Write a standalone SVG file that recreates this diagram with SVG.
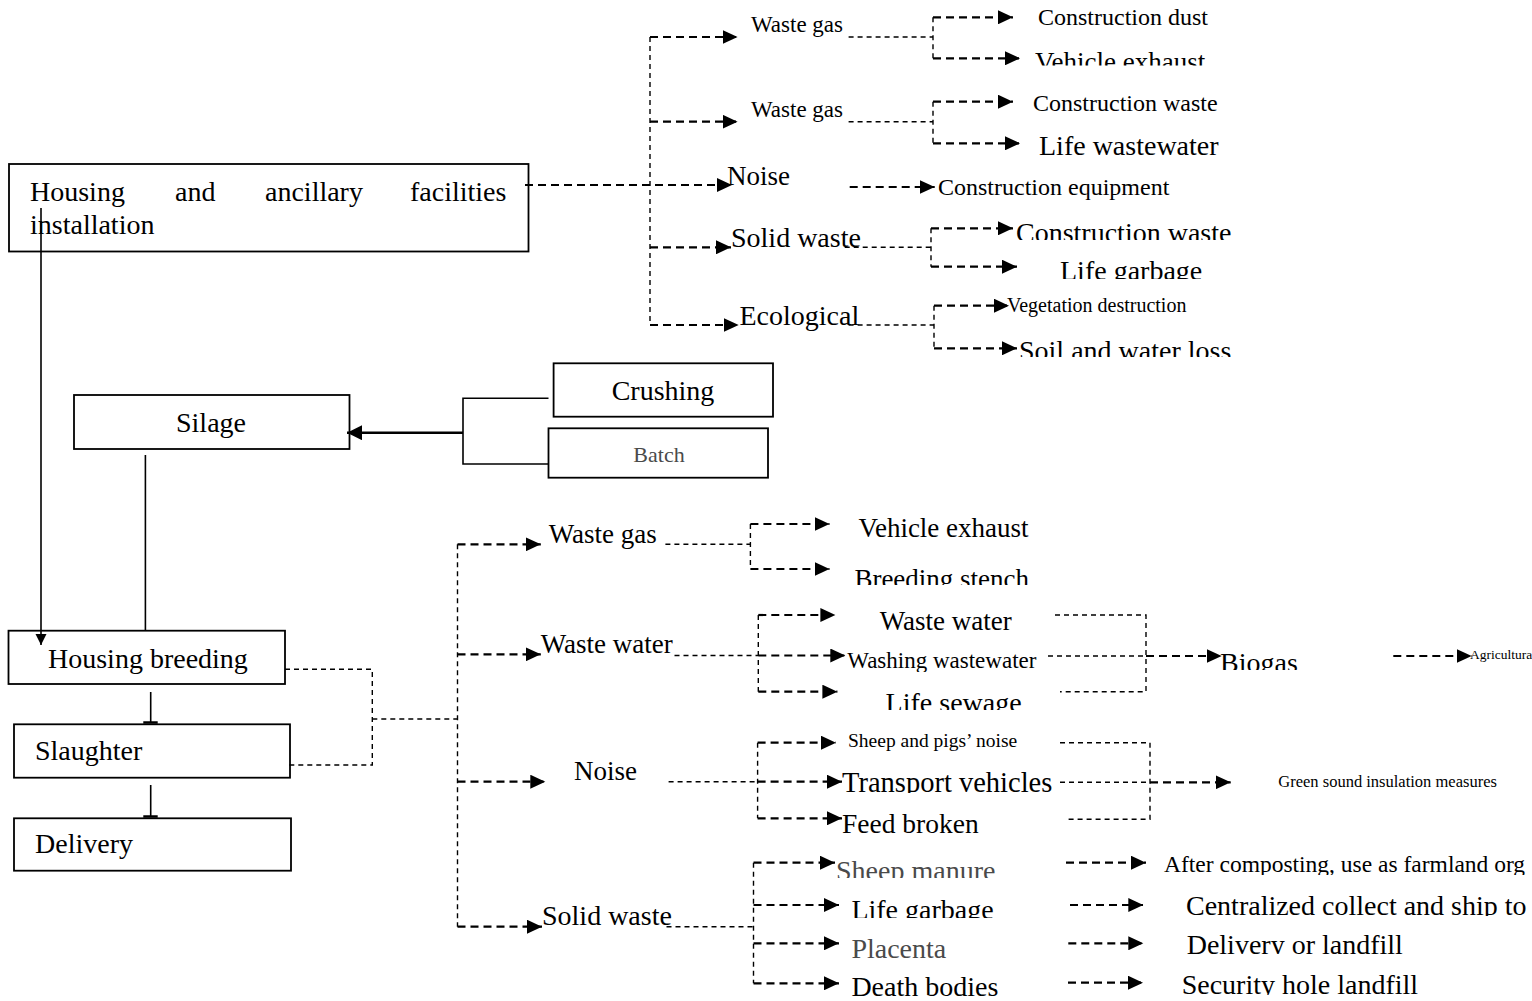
<svg xmlns="http://www.w3.org/2000/svg" width="1532" height="1001" viewBox="0 0 1532 1001">
  <style>
    .t { font-family: "Liberation Serif", "DejaVu Serif", serif; fill: #000; }
    .grey { fill: #4a4a4a; }
    .box { fill: none; stroke: #000; stroke-width: 1.8; }
    .dk { fill: none; stroke: #000; stroke-width: 2.2; stroke-dasharray: 8 5; }
    .dt { fill: none; stroke: #000; stroke-width: 1.4; stroke-dasharray: 5 4; }
    .sl { fill: none; stroke: #000; stroke-width: 1.6; }
    .sk { fill: none; stroke: #000; stroke-width: 2.6; }
  </style>
  <defs>
    <marker id="ah" markerUnits="userSpaceOnUse" markerWidth="16" markerHeight="14" refX="15" refY="7" orient="auto">
      <path d="M0,0 L15,7 L0,14 Z" fill="#000"/>
    </marker>
    <marker id="ahs" markerUnits="userSpaceOnUse" markerWidth="16" markerHeight="16" refX="15" refY="7.5" orient="auto">
      <path d="M0,0 L15,7.5 L0,15 Z" fill="#000"/>
    </marker>
    <marker id="ahd" markerUnits="userSpaceOnUse" markerWidth="12" markerHeight="12" refX="11" refY="5.5" orient="auto">
      <path d="M0,0 L11,5.5 L0,11 Z" fill="#000"/>
    </marker>
    <!-- text frames that cut off the lower part of some labels -->
    <clipPath id="cVeh1"><rect x="1000" y="30" width="300" height="35.5"/></clipPath>
    <clipPath id="cCw2"><rect x="1000" y="200" width="300" height="40"/></clipPath>
    <clipPath id="cLg1"><rect x="1000" y="250" width="300" height="29"/></clipPath>
    <clipPath id="cSoil"><rect x="1000" y="330" width="300" height="27"/></clipPath>
    <clipPath id="cBreed"><rect x="840" y="560" width="300" height="25"/></clipPath>
    <clipPath id="cWash"><rect x="840" y="640" width="300" height="32"/></clipPath>
    <clipPath id="cSew"><rect x="860" y="680" width="300" height="30"/></clipPath>
    <clipPath id="cBio"><rect x="1200" y="640" width="200" height="30"/></clipPath>
    <clipPath id="cTrans"><rect x="830" y="760" width="300" height="33"/></clipPath>
    <clipPath id="cManure"><rect x="830" y="850" width="300" height="28"/></clipPath>
    <clipPath id="cLg2"><rect x="840" y="890" width="300" height="28"/></clipPath>
    <clipPath id="cAfter"><rect x="1150" y="850" width="400" height="25"/></clipPath>
    <clipPath id="cCent"><rect x="1150" y="890" width="400" height="26"/></clipPath>
    <clipPath id="cDeliv"><rect x="1150" y="925" width="400" height="29"/></clipPath>
    <clipPath id="cSec"><rect x="1150" y="965" width="400" height="30"/></clipPath>
  </defs>

  <rect width="1532" height="1001" fill="#fff"/>

  <!-- connectors -->
  <g id="connectors">
    <!-- construction stage tree -->
    <path class="dt" d="M650,37 V325"/>
    <path class="dk" d="M650,37 H737.6" marker-end="url(#ah)"/>
    <path class="dk" d="M650,121.7 H737.6" marker-end="url(#ah)"/>
    <path class="dk" d="M525,185 H732" marker-end="url(#ah)"/>
    <path class="dk" d="M650,247.3 H731" marker-end="url(#ah)"/>
    <path class="dk" d="M650,325 H738.7" marker-end="url(#ah)"/>

    <path class="dt" d="M848.6,37 H933 M933,17.3 V58.3"/>
    <path class="dk" d="M933,17.3 H1013" marker-end="url(#ah)"/>
    <path class="dk" d="M933,58.3 H1020" marker-end="url(#ah)"/>

    <path class="dt" d="M848.6,121.7 H933 M933,101.7 V143.3"/>
    <path class="dk" d="M933,101.7 H1013" marker-end="url(#ah)"/>
    <path class="dk" d="M933,143.3 H1020" marker-end="url(#ah)"/>

    <path class="dk" d="M849.7,187 H934.7" marker-end="url(#ah)"/>

    <path class="dt" d="M844.7,247.3 H931 M931,228.3 V266.7"/>
    <path class="dk" d="M931,228.3 H1013" marker-end="url(#ah)"/>
    <path class="dk" d="M931,266.7 H1017" marker-end="url(#ah)"/>

    <path class="dt" d="M848.6,325 H934 M934,305.7 V348.3"/>
    <path class="dk" d="M934,305.7 H1009" marker-end="url(#ah)"/>
    <path class="dk" d="M934,348.3 H1017" marker-end="url(#ah)"/>

    <!-- main process line -->
    <path class="sl" d="M41,208 V645" marker-end="url(#ahd)"/>
    <path class="sl" d="M548.5,398.3 H463 V464 H548.5"/>
    <path class="sk" d="M463,432.7 H347" marker-end="url(#ahs)"/>
    <path class="sl" d="M145.4,455 V631"/>
    <path class="sl" d="M150.7,692 V723 M150.7,785 V817"/>
    <path class="sk" d="M143.3,722.5 H157.7 M143.3,816.5 H157.7"/>

    <!-- operation stage tree -->
    <path class="dt" d="M285,669.3 H372.3 V765 H286.7 M372.3,719 H457.5"/>
    <path class="dt" d="M457.5,544.3 V926.7"/>
    <path class="dk" d="M457.5,544.3 H540.8" marker-end="url(#ah)"/>
    <path class="dk" d="M457.5,654.3 H540.8" marker-end="url(#ah)"/>
    <path class="dk" d="M457.5,781.7 H545.3" marker-end="url(#ah)"/>
    <path class="dk" d="M457.5,926.7 H542" marker-end="url(#ah)"/>

    <path class="dt" d="M665.4,544.3 H750.4 M750.4,524 V569"/>
    <path class="dk" d="M750.4,524 H829.5" marker-end="url(#ah)"/>
    <path class="dk" d="M750.4,569 H829.5" marker-end="url(#ah)"/>

    <path class="dt" d="M674.5,655.5 H758.3 M758.3,615 V691.7"/>
    <path class="dk" d="M758.3,615 H835.4" marker-end="url(#ah)"/>
    <path class="dk" d="M758.3,655.5 H845.3" marker-end="url(#ah)"/>
    <path class="dk" d="M758.3,691.7 H837.4" marker-end="url(#ah)"/>

    <path class="dt" d="M1055,615 H1146 V691.7 H1060 M1048,656 H1146"/>
    <path class="dk" d="M1146,656 H1221.7" marker-end="url(#ah)"/>
    <path class="dk" d="M1393.3,656 H1471.7" marker-end="url(#ah)"/>

    <path class="dt" d="M668.6,781.7 H757.6 M757.6,742.7 V818.3"/>
    <path class="dk" d="M757.6,742.7 H836" marker-end="url(#ah)"/>
    <path class="dk" d="M757.6,781.7 H842" marker-end="url(#ah)"/>
    <path class="dk" d="M757.6,818.3 H842" marker-end="url(#ah)"/>

    <path class="dt" d="M1060,742.7 H1150 V819.3 H1066 M1060,782.3 H1150"/>
    <path class="dk" d="M1150,782.3 H1230.7" marker-end="url(#ah)"/>

    <path class="dt" d="M666.5,926.7 H753.5 M753.5,862.7 V983.3"/>
    <path class="dk" d="M753.5,862.7 H835" marker-end="url(#ah)"/>
    <path class="dk" d="M753.5,905 H839" marker-end="url(#ah)"/>
    <path class="dk" d="M753.5,943.3 H839" marker-end="url(#ah)"/>
    <path class="dk" d="M753.5,983.3 H839" marker-end="url(#ah)"/>

    <path class="dk" d="M1066,862.7 H1146" marker-end="url(#ah)"/>
    <path class="dk" d="M1070,905 H1143.3" marker-end="url(#ah)"/>
    <path class="dk" d="M1068.3,943.3 H1143.3" marker-end="url(#ah)"/>
    <path class="dk" d="M1068,982.7 H1143" marker-end="url(#ah)"/>
  </g>

  <!-- process boxes -->
  <g id="node-housing-install">
    <rect class="box" x="9" y="164" width="519.5" height="87.5"/>
    <g class="t" font-size="28">
      <text x="30" y="201">Housing</text>
      <text x="175" y="201">and</text>
      <text x="265" y="201">ancillary</text>
      <text x="410" y="201">facilities</text>
      <text x="30" y="234">installation</text>
    </g>
  </g>
  <g id="node-silage">
    <rect class="box" x="74" y="395" width="275.5" height="54"/>
    <text class="t" x="211" y="432" font-size="28" text-anchor="middle">Silage</text>
  </g>
  <g id="node-crushing">
    <rect class="box" x="553.6" y="363.3" width="219.4" height="53.4"/>
    <text class="t" x="663" y="400" font-size="28" text-anchor="middle">Crushing</text>
  </g>
  <g id="node-batch">
    <rect class="box" x="548.5" y="428.3" width="219.5" height="49.4"/>
    <text class="t grey" x="659" y="462" font-size="22" text-anchor="middle">Batch</text>
  </g>
  <g id="node-housing-breeding">
    <rect class="box" x="8.5" y="630.7" width="276.5" height="53.3"/>
    <text class="t" x="48" y="668.3" font-size="28">Housing breeding</text>
  </g>
  <g id="node-slaughter">
    <rect class="box" x="14" y="724.3" width="276" height="53.4"/>
    <text class="t" x="35" y="760" font-size="28">Slaughter</text>
  </g>
  <g id="node-delivery">
    <rect class="box" x="14" y="818.3" width="277" height="52.4"/>
    <text class="t" x="35" y="853.3" font-size="28">Delivery</text>
  </g>

  <!-- construction stage labels -->
  <g id="node-c-wastegas1" class="t">
    <text x="751" y="31.7" font-size="23">Waste gas</text>
    <text x="1038" y="25" font-size="24">Construction dust</text>
    <text x="1035" y="71" font-size="27" clip-path="url(#cVeh1)">Vehicle exhaust</text>
  </g>
  <g id="node-c-wastegas2" class="t">
    <text x="751" y="117.3" font-size="23">Waste gas</text>
    <text x="1033" y="110.7" font-size="24">Construction waste</text>
    <text x="1039" y="155" font-size="28">Life wastewater</text>
  </g>
  <g id="node-c-noise" class="t">
    <text x="727" y="185" font-size="27">Noise</text>
    <text x="938" y="195" font-size="24">Construction equipment</text>
  </g>
  <g id="node-c-solid" class="t">
    <text x="731" y="247" font-size="28">Solid waste</text>
    <text x="1016" y="242" font-size="28" clip-path="url(#cCw2)">Construction waste</text>
    <text x="1060" y="280" font-size="28" clip-path="url(#cLg1)">Life garbage</text>
  </g>
  <g id="node-c-ecological" class="t">
    <text x="739.5" y="325" font-size="28">Ecological</text>
    <text x="1007" y="311.7" font-size="20">Vegetation destruction</text>
    <text x="1019" y="360" font-size="28" clip-path="url(#cSoil)">Soil and water loss</text>
  </g>

  <!-- operation stage labels -->
  <g id="node-o-wastegas" class="t">
    <text x="548.7" y="543.3" font-size="27">Waste gas</text>
    <text x="858.4" y="537.3" font-size="27">Vehicle exhaust</text>
    <text x="854.4" y="588" font-size="27" clip-path="url(#cBreed)">Breeding stench</text>
  </g>
  <g id="node-o-wastewater" class="t">
    <text x="540.8" y="653.3" font-size="27">Waste water</text>
    <text x="879.7" y="630" font-size="27">Waste water</text>
    <text x="847.3" y="668" font-size="23" clip-path="url(#cWash)">Washing wastewater</text>
    <text x="885.6" y="712" font-size="28" clip-path="url(#cSew)">Life sewage</text>
  </g>
  <g id="node-o-biogas" class="t">
    <text x="1220" y="672" font-size="28" clip-path="url(#cBio)">Biogas</text>
    <text x="1470" y="659" font-size="13.5">Agricultural</text>
  </g>
  <g id="node-o-noise" class="t">
    <text x="574" y="780" font-size="27">Noise</text>
    <text x="848" y="746.7" font-size="19.5">Sheep and pigs’ noise</text>
    <text x="842" y="792" font-size="28.5" clip-path="url(#cTrans)">Transport vehicles</text>
    <text x="842" y="832.7" font-size="27.5">Feed broken</text>
    <text x="1278.3" y="786.7" font-size="16.5">Green sound insulation measures</text>
  </g>
  <g id="node-o-solid" class="t">
    <text x="542" y="925" font-size="28">Solid waste</text>
    <text class="grey" x="836" y="880" font-size="28" clip-path="url(#cManure)">Sheep manure</text>
    <text x="851.4" y="919" font-size="28" clip-path="url(#cLg2)">Life garbage</text>
    <text class="grey" x="851.4" y="958.3" font-size="28">Placenta</text>
    <text x="851.4" y="996" font-size="28">Death bodies</text>
    <text x="1164" y="872" font-size="23.5" clip-path="url(#cAfter)">After composting, use as farmland org</text>
    <text x="1186" y="915" font-size="28" clip-path="url(#cCent)">Centralized collect and ship to</text>
    <text x="1186.7" y="954" font-size="28" clip-path="url(#cDeliv)">Delivery or landfill</text>
    <text x="1181.7" y="994" font-size="28" clip-path="url(#cSec)">Security hole landfill</text>
  </g>
</svg>
